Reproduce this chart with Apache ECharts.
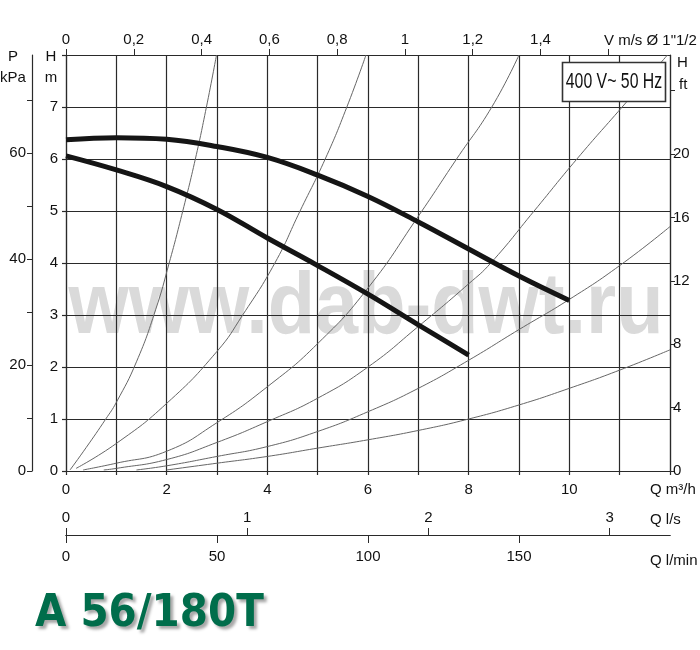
<!DOCTYPE html>
<html><head><meta charset="utf-8">
<script src="https://cdn.jsdelivr.net/npm/echarts@6/dist/echarts.min.js"></script>
<style>html,body{margin:0;padding:0;background:#fff}#c{width:700px;height:650px}</style>
</head><body><div id="c"></div>
<script>
// ---- tick / label values ----
const qLabelVals   = [0, 2, 4, 6, 8, 10];
const hLabelVals   = [0, 1, 2, 3, 4, 5, 6, 7];
const velTickVals  = [0, 0.2, 0.4, 0.6, 0.8, 1, 1.2, 1.4, 1.6];
const velLabelVals = [0, 0.2, 0.4, 0.6, 0.8, 1, 1.2, 1.4];
const lsVals       = [0, 1, 2, 3];
const lminVals     = [0, 50, 100, 150];
const kpaTickVals  = [0, 10, 20, 30, 40, 50, 60, 70];
const kpaLabelVals = [0, 20, 40, 60];
const ftTickVals   = [0, 4, 8, 12, 16, 20, 24];
const ftLabelVals  = [0, 4, 8, 12, 16, 20];

// ---- pump curves (Q m3/h, H m) ----
const maxQ = [0, 1, 2, 3, 4, 5, 6, 7, 8, 9, 10];
const maxH = [6.37, 6.41, 6.38, 6.24, 6.03, 5.69, 5.28, 4.79, 4.27, 3.75, 3.28];
const minQ = [0, 1, 2, 3, 4, 5, 6, 7, 8];
const minH = [6.06, 5.79, 5.47, 5.03, 4.48, 3.95, 3.40, 2.81, 2.23];

// ---- thin system curves ----
const sysAQ = [0.08, 0.4, 0.79, 1, 1.4, 1.78, 2.05, 2.32, 2.57, 2.79, 2.99];
const sysAH = [0.02, 0.45, 1, 1.32, 2.1, 3.1, 4, 5, 6, 7, 8];
const sysBQ = [0.2, 1, 2, 3, 3.51, 4.15, 4.65, 5.15, 5.58, 5.96];
const sysBH = [0.05, 0.53, 1.3, 2.3, 3, 4, 5, 6, 7, 8];
const sysCQ = [0.34, 1, 2, 3, 4, 5, 6, 7, 7.76, 8.46, 9.0];
const sysCH = [0.02, 0.15, 0.38, 0.93, 1.62, 2.45, 3.52, 4.9, 6, 7, 8];
const sysDQ = [0.75, 1, 2, 3, 4, 5, 6, 7, 8, 8.44, 9.3, 10.15, 11.05, 11.95];
const sysDH = [0.02, 0.05, 0.22, 0.55, 0.95, 1.4, 2.0, 2.78, 3.6, 4, 5, 6, 7, 8];
const sysEQ = [1.4, 2, 3, 4, 5, 6, 7, 8, 9, 10, 11, 12];
const sysEH = [0.02, 0.1, 0.28, 0.47, 0.76, 1.14, 1.59, 2.13, 2.72, 3.3, 3.95, 4.7];
const sysFQ = [2.0, 3, 4, 5, 6, 7, 8, 9, 10, 11, 12];
const sysFH = [0.02, 0.15, 0.28, 0.44, 0.6, 0.78, 1.0, 1.27, 1.59, 1.94, 2.33];

const velMax = 1.782;          // m/s at 12 m3/h
const lsMax = 12 / 3.6;        // l/s
const lminMax = 200;           // l/min
const kpaMax = 8 * 9.80665;    // kPa
const ftMax = 8 / 0.3048;      // ft

const FONT = '"Liberation Sans", Arial, sans-serif';
const LC = '#2a2a2a';
const lab = {fontFamily: FONT, fontSize: 15, color: '#111'};
const pts = (q, h) => q.map((x, i) => [x, h[i]]);
const inList = (arr, v) => arr.some(a => Math.abs(a - v) < 1e-6);

const chart = echarts.init(document.getElementById('c'), null, {renderer: 'canvas'});

const thin = (q, h) => ({type: 'line', data: pts(q, h), smooth: 0.5, symbol: 'none',
  lineStyle: {color: '#666', width: 1}, z: 3, silent: true});
const thick = (q, h) => ({type: 'line', data: pts(q, h), smooth: 0.4, symbol: 'none',
  lineStyle: {color: '#151515', width: 5}, z: 5, silent: true});

const option = {
  animation: false,
  backgroundColor: '#fff',
  grid: {left: 66, top: 55, width: 604, height: 416, containLabel: false},
  xAxis: [
    {type: 'value', min: 0, max: 12, interval: 1, position: 'bottom',
     axisLine: {show: true, onZero: false, lineStyle: {color: LC, width: 1.2}},
     axisTick: {show: true, length: 4, lineStyle: {color: LC, width: 1.2}},
     splitLine: {show: true, lineStyle: {color: LC, width: 1.2}},
     axisLabel: Object.assign({}, lab, {margin: 11, formatter: v => inList(qLabelVals, v) ? String(v) : ''})},
    {type: 'value', min: 0, max: velMax, position: 'top',
     axisLine: {show: true, onZero: false, lineStyle: {color: LC, width: 1.2}},
     axisTick: {show: true, length: 6, customValues: velTickVals, lineStyle: {color: LC}},
     splitLine: {show: false},
     axisLabel: Object.assign({}, lab, {margin: 8, customValues: velLabelVals,
       formatter: v => String(Math.round(v * 10) / 10).replace('.', ',')})},
    {type: 'value', min: 0, max: lsMax, position: 'bottom', offset: 64,
     axisLine: {show: true, onZero: false, lineStyle: {color: LC, width: 1.2}},
     axisTick: {show: true, inside: true, length: 7, customValues: lsVals, lineStyle: {color: LC}},
     splitLine: {show: false},
     axisLabel: Object.assign({}, lab, {inside: true, margin: 10, customValues: lsVals})},
    {type: 'value', min: 0, max: lminMax, position: 'bottom', offset: 64,
     axisLine: {show: true, onZero: false, lineStyle: {color: LC, width: 1.2}},
     axisTick: {show: true, length: 8, customValues: lminVals, lineStyle: {color: LC}},
     splitLine: {show: false},
     axisLabel: Object.assign({}, lab, {margin: 14, customValues: lminVals})}
  ],
  yAxis: [
    {type: 'value', min: 0, max: 8, interval: 1, position: 'left',
     axisLine: {show: true, onZero: false, lineStyle: {color: LC, width: 1.2}},
     axisTick: {show: true, length: 4, lineStyle: {color: LC, width: 1.2}},
     splitLine: {show: true, lineStyle: {color: LC, width: 1.2}},
     axisLabel: Object.assign({}, lab, {margin: 8, formatter: v => inList(hLabelVals, v) ? String(v) : ''})},
    {type: 'value', min: 0, max: kpaMax, position: 'left', offset: 34,
     axisLine: {show: true, onZero: false, lineStyle: {color: LC, width: 1.2}},
     axisTick: {show: true, length: 5, customValues: kpaTickVals, lineStyle: {color: LC}},
     splitLine: {show: false},
     axisLabel: Object.assign({}, lab, {margin: 6, customValues: kpaLabelVals})},
    {type: 'value', min: 0, max: ftMax, position: 'right',
     axisLine: {show: true, onZero: false, lineStyle: {color: LC, width: 1.2}},
     axisTick: {show: true, length: 5, customValues: ftTickVals, lineStyle: {color: LC}},
     splitLine: {show: false},
     axisLabel: Object.assign({}, lab, {margin: 3, customValues: ftLabelVals})}
  ],
  series: [
    thin(sysAQ, sysAH), thin(sysBQ, sysBH), thin(sysCQ, sysCH),
    thin(sysDQ, sysDH), thin(sysEQ, sysEH), thin(sysFQ, sysFH),
    thick(maxQ, maxH), thick(minQ, minH)
  ],
  graphic: [
    {type: 'text', x: 366, y: 309, z: -10, scaleX: 0.88, silent: true,
     style: {text: 'www.dab-dwt.ru', font: 'bold 88px "Liberation Sans", Arial, sans-serif',
             fill: '#dadada', textAlign: 'center', textVerticalAlign: 'middle'}},
    {type: 'rect', z: 100, shape: {x: 562.5, y: 62.5, width: 103, height: 39},
     style: {fill: '#fff', stroke: '#333', lineWidth: 1.6}},
    {type: 'text', x: 614, y: 82, z: 101, scaleX: 0.72,
     style: {text: '400 V~ 50 Hz', font: '22px "Liberation Sans", Arial, sans-serif',
             fill: '#111', textAlign: 'center', textVerticalAlign: 'middle'}},
    {type: 'text', x: 35, y: 614, z: 50, scaleX: 0.9,
     style: {text: 'A 56/180T', font: 'bold 45px "DejaVu Sans", sans-serif', fill: '#006d4b',
             textAlign: 'left', textVerticalAlign: 'middle',
             textShadowColor: 'rgba(0,0,0,0.35)', textShadowBlur: 3, textShadowOffsetX: 3, textShadowOffsetY: 3}},
    {type: 'text', x: 13, y: 57, style: {text: 'P', font: '15px ' + FONT, fill: '#111', textAlign: 'center', textVerticalAlign: 'middle'}},
    {type: 'text', x: 13, y: 78, style: {text: 'kPa', font: '15px ' + FONT, fill: '#111', textAlign: 'center', textVerticalAlign: 'middle'}},
    {type: 'text', x: 51, y: 57, style: {text: 'H', font: '15px ' + FONT, fill: '#111', textAlign: 'center', textVerticalAlign: 'middle'}},
    {type: 'text', x: 51, y: 78, style: {text: 'm', font: '15px ' + FONT, fill: '#111', textAlign: 'center', textVerticalAlign: 'middle'}},
    {type: 'text', x: 677, y: 63, style: {text: 'H', font: '15px ' + FONT, fill: '#111', textAlign: 'left', textVerticalAlign: 'middle'}},
    {type: 'text', x: 679, y: 85, style: {text: 'ft', font: '15px ' + FONT, fill: '#111', textAlign: 'left', textVerticalAlign: 'middle'}},
    {type: 'text', x: 604, y: 41, style: {text: 'V m/s Ø 1"1/2', font: '15px ' + FONT, fill: '#111', textAlign: 'left', textVerticalAlign: 'middle'}},
    {type: 'text', x: 650, y: 490, style: {text: 'Q m³/h', font: '15px ' + FONT, fill: '#111', textAlign: 'left', textVerticalAlign: 'middle'}},
    {type: 'text', x: 650, y: 520, style: {text: 'Q l/s', font: '15px ' + FONT, fill: '#111', textAlign: 'left', textVerticalAlign: 'middle'}},
    {type: 'text', x: 650, y: 561, style: {text: 'Q l/min', font: '15px ' + FONT, fill: '#111', textAlign: 'left', textVerticalAlign: 'middle'}}
  ]
};
chart.setOption(option);
</script>
</body></html>
